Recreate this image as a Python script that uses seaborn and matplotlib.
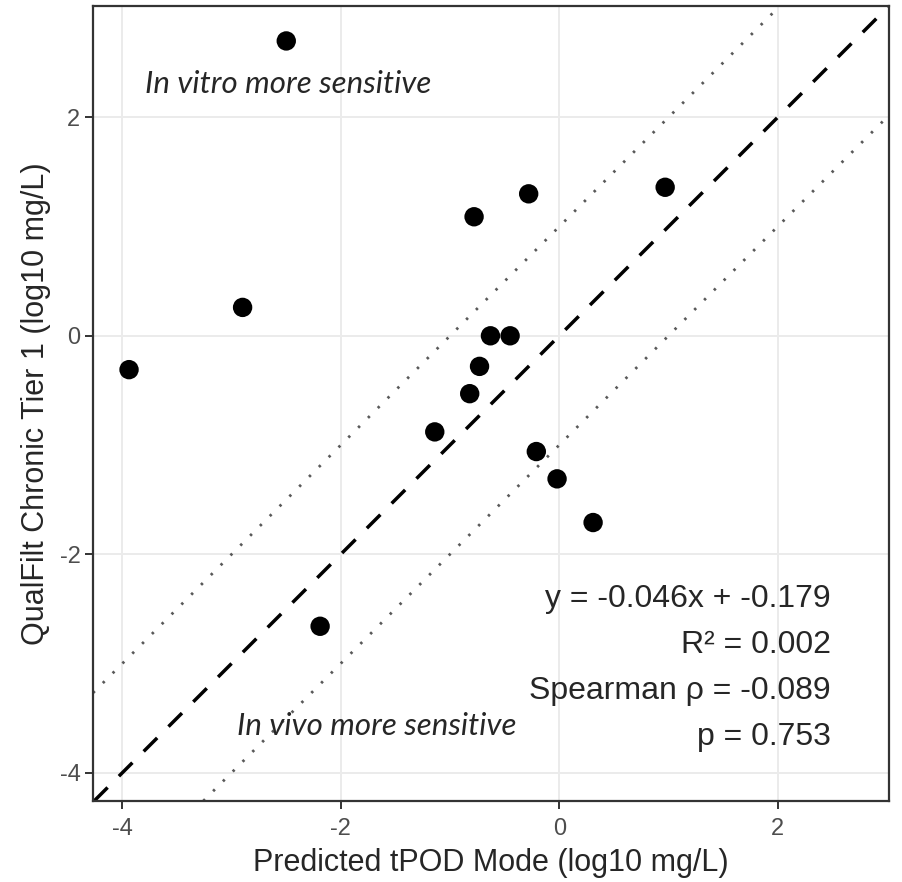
import numpy as np
import pandas as pd
import seaborn as sns
import matplotlib.pyplot as plt

# values
predicted = [-2.50, -0.28, 0.97, -0.78, -2.90, -3.94, -0.63, -0.45,
             -0.73, -0.82, -1.14, -0.21, -0.02, 0.31, -2.19]
observed = [2.70, 1.30, 1.36, 1.09, 0.26, -0.31, 0.00, 0.00,
            -0.28, -0.53, -0.88, -1.06, -1.31, -1.71, -2.66]
stats_lines = ["y = -0.046x + -0.179", "R\u00b2 = 0.002",
               "Spearman \u03c1 = -0.089", "p = 0.753"]

data = pd.DataFrame({"pred": predicted, "obs": observed})

sns.set_style("white")
plt.rcParams["font.family"] = ["Liberation Sans", "DejaVu Sans"]

fig = plt.figure(figsize=(9.02, 8.82), dpi=100)
ax = fig.add_axes([93 / 902, 1 - 801 / 882, 796 / 902, 795 / 882])

ax.grid(True, color="#EBEBEB", lw=1.4, zorder=0)
ax.set_axisbelow(True)

# 1:1 line and +/- one log unit
ax.axline((0, 0), slope=1, color="black", ls=(0, (5.5, 4.6)), lw=2.5,
          dash_capstyle="butt", zorder=2)
for off in (1, -1):
    ax.axline((0, off), slope=1, color="#595959", ls=(0, (0.9, 4.1)),
              lw=2.0, dash_capstyle="butt", zorder=2)

sns.scatterplot(data=data, x="pred", y="obs", color="black", s=195,
                edgecolor="none", ax=ax, zorder=3)

ax.set_xlim(-4.27, 3.02)
ax.set_ylim(-4.26, 3.02)
ax.set_xticks([-4, -2, 0, 2])
ax.set_yticks([-4, -2, 0, 2])
ax.set_xticklabels(["-4", "-2", "0", "2"])
ax.set_yticklabels(["-4", "-2", "0", "2"])

for sp in ax.spines.values():
    sp.set_color("#333333")
    sp.set_linewidth(1.6)
ax.tick_params(axis="x", pad=6)
ax.tick_params(axis="y", pad=3)
ax.tick_params(axis="both", length=6, width=1.4, color="#333333",
               labelcolor="#4D4D4D", labelsize=17, direction="out",
               bottom=True, left=True)

ax.set_xlabel("Predicted tPOD Mode (log10 mg/L)", fontsize=22, labelpad=6)
ax.set_ylabel("QualFilt Chronic Tier 1 (log10 mg/L)", fontsize=22, labelpad=6)

ax.text(-2.48, 2.31, "In vitro more sensitive", fontsize=22.5, style="italic",
        family=["Lato", "DejaVu Sans"], ha="center", va="center")
ax.text(-1.67, -3.57, "In vivo more sensitive", fontsize=22.5, style="italic",
        family=["Lato", "DejaVu Sans"], ha="center", va="center")

for i, line in enumerate(stats_lines):
    ax.text(0.927, 0.244 - i * 0.0578, line, transform=ax.transAxes,
            ha="right", va="baseline", fontsize=23)

fig.savefig("out.png", dpi=100)
